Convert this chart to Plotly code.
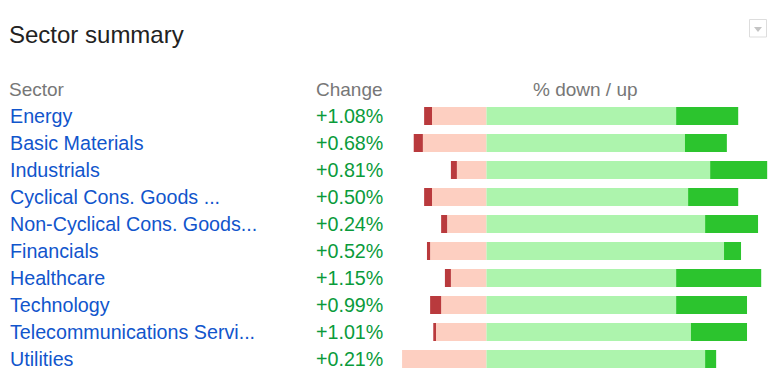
import plotly.graph_objects as go

# ---- data ----
sectors = ["Energy", "Basic Materials", "Industrials", "Cyclical Cons. Goods ...",
           "Non-Cyclical Cons. Goods...", "Financials", "Healthcare", "Technology",
           "Telecommunications Servi...", "Utilities"]
changes = ["+1.08%", "+0.68%", "+0.81%", "+0.50%", "+0.24%",
           "+0.52%", "+1.15%", "+0.99%", "+1.01%", "+0.21%"]
# % of stocks: down a little / down a lot / up a little / up a lot
down_small = [17.3, 20.2, 9.4, 17.3, 12.5, 17.9, 11.3, 14.4, 16.3, 26.8]
down_big = [2.5, 2.9, 1.9, 2.5, 1.9, 1.0, 1.9, 3.5, 0.6, 0.0]
up_small = [60.2, 63.0, 71.0, 64.0, 69.4, 75.4, 60.2, 60.2, 64.9, 69.4]
up_big = [19.7, 13.3, 18.1, 15.9, 16.8, 5.4, 27.0, 22.5, 17.8, 3.5]

PAGE_W, PAGE_H = 781, 392
OFF = 8  # body margin of the html page
W, H = PAGE_W - OFF, PAGE_H - OFF
FONT = "Liberation Sans, Arial, sans-serif"


def px(x):
    return (x - OFF) / W


def py(y):
    return 1 - (y - OFF) / H


fig = go.Figure()
series = [
    ([-v for v in down_small], "#fdcfc1"),
    ([-v for v in down_big], "#b93a3d"),
    (up_small, "#adf4ad"),
    (up_big, "#2cc42e"),
]
for vals, col in series:
    fig.add_trace(go.Bar(
        y=sectors, x=vals, orientation="h",
        marker=dict(color=col, line=dict(width=0)),
        hoverinfo="skip", showlegend=False,
    ))

annotations = []
for s, c in zip(sectors, changes):
    annotations.append(dict(xref="paper", yref="y", x=px(8), y=s, text=s,
                            xanchor="left", yanchor="middle", showarrow=False,
                            font=dict(family=FONT, size=19.7, color="#1155cc")))
    annotations.append(dict(xref="paper", yref="y", x=px(385), y=s, text=c,
                            xanchor="right", yanchor="middle", showarrow=False,
                            font=dict(family=FONT, size=19.7, color="#0a9b3b")))

hy = py(89.5)
annotations += [
    dict(xref="paper", yref="paper", x=px(7.3), y=hy, text="Sector", xanchor="left",
         yanchor="middle", showarrow=False, font=dict(family=FONT, size=19, color="#777777")),
    dict(xref="paper", yref="paper", x=px(385), y=hy, text="Change", xanchor="right",
         yanchor="middle", showarrow=False, font=dict(family=FONT, size=19, color="#777777")),
    dict(xref="paper", yref="paper", x=px(585), y=hy, text="% down / up", xanchor="center",
         yanchor="middle", showarrow=False, font=dict(family=FONT, size=19, color="#777777")),
    dict(xref="paper", yref="paper", x=px(7.4), y=py(34), text="Sector summary",
         xanchor="left", yanchor="middle", showarrow=False,
         font=dict(family=FONT, size=24, color="#222222")),
]

shapes = [
    dict(type="rect", xref="paper", yref="paper", x0=px(749.5), x1=px(766.5),
         y0=py(37), y1=py(19.5), line=dict(color="#dddddd", width=1),
         fillcolor="white"),
    dict(type="path", xref="paper", yref="paper",
         path=f"M {px(754)},{py(27)} L {px(762)},{py(27)} L {px(758)},{py(32)} Z",
         line=dict(width=0), fillcolor="#c4c4c4"),
]

fig.update_layout(
    width=W, height=H, margin=dict(l=0, r=0, t=0, b=0),
    paper_bgcolor="white", plot_bgcolor="white", template="none",
    barmode="relative", bargap=1 / 3,
    xaxis=dict(domain=[px(400), px(772)], range=[-27.46, 90.63], visible=False,
               showgrid=False, zeroline=False),
    yaxis=dict(domain=[py(372.5), py(102.5)], range=[9.5, -0.5], visible=False,
               showgrid=False, zeroline=False, type="category"),
    annotations=annotations, shapes=shapes, showlegend=False,
)

fig.write_html("out.html")
